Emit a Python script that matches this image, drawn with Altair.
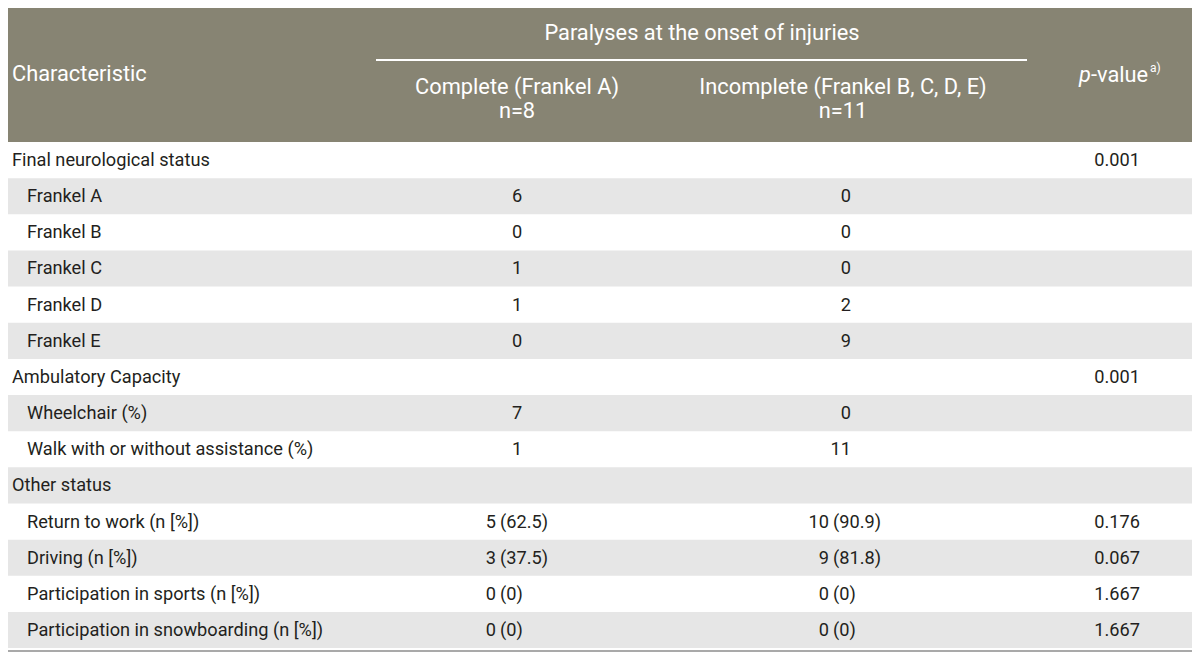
import altair as alt
import pandas as pd

# ---------------- data ----------------
characteristics = [
    "Final neurological status", "Frankel A", "Frankel B", "Frankel C", "Frankel D", "Frankel E",
    "Ambulatory Capacity", "Wheelchair (%)", "Walk with or without assistance (%)",
    "Other status", "Return to work (n [%])", "Driving (n [%])",
    "Participation in sports (n [%])", "Participation in snowboarding (n [%])",
]
is_section = [True, False, False, False, False, False, True, False, False, True, False, False, False, False]
complete_vals = ["", "6", "0", "1", "1", "0", "", "7", "1", "", "5 (62.5)", "3 (37.5)", "0 (0)", "0 (0)"]
incomplete_vals = ["", "0", "0", "0", "2", "9", "", "0", "11", "", "10 (90.9)", "9 (81.8)", "0 (0)", "0 (0)"]
p_values = ["0.001", "", "", "", "", "", "0.001", "", "", "", "0.176", "0.067", "1.667", "1.667"]

first_header = "Characteristic"
group_header = "Paralyses at the onset of injuries"
col_headers = ["Complete (Frankel A)", "Incomplete (Frankel B, C, D, E)"]
col_ns = ["n=8", "n=11"]
p_header = ["p", "-value", "a)"]

# ---------------- layout (reference pixel space) ----------------
W, H = 1184, 644
XD = [8, 1192]
YD = [8, 652]
ROW0, ROWH = 142, 36.15
FONT = "Roboto, Liberation Sans, sans-serif"
HEAD_BG = "#878473"
STRIPE = "#e6e6e6"
TXT = "#231f20"
BODY_FS = 18.2
HEAD_FS = 21.8

xs = alt.Scale(domain=XD, nice=False, zero=False)
ys = alt.Scale(domain=YD, nice=False, zero=False, reverse=True)


def X(f):
    return alt.X(f, type="quantitative", scale=xs, axis=None)


def Y(f):
    return alt.Y(f, type="quantitative", scale=ys, axis=None)


def split_count(s):
    if " " in s:
        a, b = s.split(" ", 1)
        return a, b
    return s, ""


n = len(characteristics)
other_start = characteristics.index("Other status")
rows = pd.DataFrame({
    "label": characteristics,
    "section": is_section,
    "c1": complete_vals,
    "c2": incomplete_vals,
    "p": p_values,
})
rows["i"] = range(n)
rows["top"] = ROW0 + ROWH * rows["i"]
rows["bot"] = rows["top"] + ROWH
rows["base"] = rows["top"] + 24
rows["lx"] = [12 if s else 27 for s in is_section]
rows["x0"] = 4
rows["x1"] = 1200
rows["c1n"] = [split_count(s)[0] for s in complete_vals]
rows["c1p"] = [split_count(s)[1] for s in complete_vals]
rows["c2n"] = [split_count(s)[0] for s in incomplete_vals]
rows["c2p"] = [split_count(s)[1] for s in incomplete_vals]
rows["c1x_c"] = 517
rows["c1x_n"] = 496
rows["c1x_p"] = 500
rows["c2x_r"] = 851
rows["c2x_n"] = 829
rows["c2x_p"] = 833
rows["px"] = 1140

base = alt.Chart(rows)

header_bg = alt.Chart(pd.DataFrame({"a": [4], "b": [1200], "t": [7], "u": [ROW0]})).mark_rect(
    color=HEAD_BG, clip=True
).encode(x=X("a"), x2="b", y=Y("t"), y2="u")

stripes = base.transform_filter("datum.i % 2 == 1").mark_rect(color=STRIPE, clip=True).encode(
    x=X("x0"), x2="x1", y=Y("top"), y2="bot"
)

white_rule = alt.Chart(pd.DataFrame({"a": [376], "b": [1027], "y": [60]})).mark_rule(
    color="white", strokeWidth=2
).encode(x=X("a"), x2="b", y=Y("y"))

bottom_rule = alt.Chart(pd.DataFrame({"a": [4], "b": [1200], "y": [ROW0 + ROWH * n + 3]})).mark_rule(
    color="#8c8c8c", strokeWidth=1.5, clip=True
).encode(x=X("a"), x2="b", y=Y("y"))


def txt(chart, align, fs=BODY_FS, color=TXT, **kw):
    return chart.mark_text(align=align, baseline="alphabetic", font=FONT, fontSize=fs, color=color, **kw)


first = base.transform_filter(f"datum.i < {other_start}")
other = base.transform_filter(f"datum.i > {other_start}")

labels = txt(base, "left").encode(x=X("lx"), y=Y("base"), text="label")
c1_center = txt(first, "center").encode(x=X("c1x_c"), y=Y("base"), text="c1")
c1_n = txt(other, "right").encode(x=X("c1x_n"), y=Y("base"), text="c1n")
c1_p = txt(other, "left").encode(x=X("c1x_p"), y=Y("base"), text="c1p")
c2_right = txt(first, "right").encode(x=X("c2x_r"), y=Y("base"), text="c2")
c2_n = txt(other, "right").encode(x=X("c2x_n"), y=Y("base"), text="c2n")
c2_p = txt(other, "left").encode(x=X("c2x_p"), y=Y("base"), text="c2p")
pcol = txt(base, "right").encode(x=X("px"), y=Y("base"), text="p")

# header texts
hdr_left = pd.DataFrame({"t": [first_header], "x": [12], "y": [81]})
hdr_center = pd.DataFrame({
    "t": [group_header, col_headers[0], col_ns[0], col_headers[1], col_ns[1]],
    "x": [702, 517, 517, 843, 843],
    "y": [40, 94, 118, 94, 118],
})
h1 = txt(alt.Chart(hdr_left), "left", fs=HEAD_FS, color="white").encode(x=X("x"), y=Y("y"), text="t")
h2 = txt(alt.Chart(hdr_center), "center", fs=HEAD_FS, color="white").encode(x=X("x"), y=Y("y"), text="t")

p_it = txt(alt.Chart(pd.DataFrame({"t": [p_header[0]], "x": [1091], "y": [82]})), "right",
           fs=HEAD_FS, color="white", fontStyle="italic").encode(x=X("x"), y=Y("y"), text="t")
p_val = txt(alt.Chart(pd.DataFrame({"t": [p_header[1]], "x": [1091], "y": [82]})), "left",
            fs=HEAD_FS, color="white").encode(x=X("x"), y=Y("y"), text="t")
p_sup = txt(alt.Chart(pd.DataFrame({"t": [p_header[2]], "x": [1150], "y": [72]})), "left",
            fs=12, color="white").encode(x=X("x"), y=Y("y"), text="t")

chart = alt.layer(
    header_bg, stripes, white_rule, bottom_rule,
    labels, c1_center, c1_n, c1_p, c2_right, c2_n, c2_p, pcol,
    h1, h2, p_it, p_val, p_sup,
).properties(width=W, height=H, padding=0).configure_view(stroke=None)

chart.save("out.html", embed_options={"renderer": "svg", "actions": False})
